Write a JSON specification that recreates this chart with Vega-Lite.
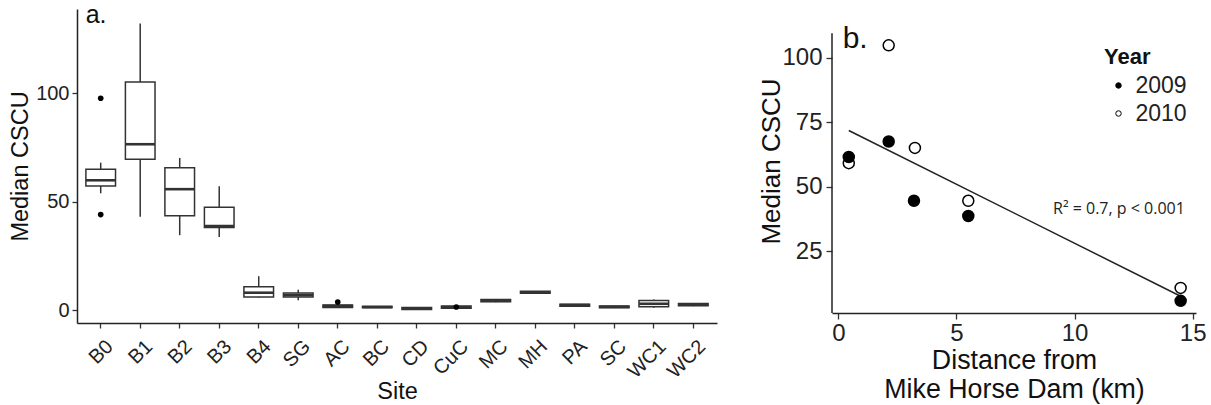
{
  "$schema": "https://vega.github.io/schema/vega-lite/v6.json",
  "padding": {"left": 8, "top": 2, "right": 5, "bottom": 0},
  "bounds": "flush",
  "spacing": 115,
  "config": {
    "font": "Liberation Sans",
    "view": {"stroke": null},
    "axis": {"grid": false, "domainColor": "#222", "domainWidth": 1.5, "tickColor": "#333", "tickWidth": 1.3, "labelColor": "#222", "titleColor": "#111", "titleFontWeight": "normal", "labelFont": "Liberation Sans", "titleFont": "Liberation Sans"}
  },
  "datasets": {
    "boxes": [
      {"site": "B0", "lower": 53.9, "q1": 57.3, "median": 59.9, "q3": 65.0, "upper": 68.0},
      {"site": "B1", "lower": 43.1, "q1": 69.6, "median": 76.5, "q3": 105.2, "upper": 132.1},
      {"site": "B2", "lower": 34.6, "q1": 43.5, "median": 55.8, "q3": 65.7, "upper": 70.2},
      {"site": "B3", "lower": 33.8, "q1": 38.1, "median": 38.8, "q3": 47.5, "upper": 57.1},
      {"site": "B4", "lower": 5.8, "q1": 6.1, "median": 8.1, "q3": 10.9, "upper": 15.7},
      {"site": "SG", "lower": 4.6, "q1": 6.1, "median": 7.0, "q3": 8.0, "upper": 9.5},
      {"site": "AC", "lower": 1.1, "q1": 1.3, "median": 2.0, "q3": 2.4, "upper": 2.6},
      {"site": "BC", "lower": 1.1, "q1": 1.2, "median": 1.5, "q3": 1.8, "upper": 1.9},
      {"site": "CD", "lower": 0.2, "q1": 0.4, "median": 0.9, "q3": 1.3, "upper": 1.4},
      {"site": "CuC", "lower": 0.6, "q1": 0.9, "median": 1.4, "q3": 2.0, "upper": 2.3},
      {"site": "MC", "lower": 3.7, "q1": 3.9, "median": 4.4, "q3": 5.0, "upper": 5.1},
      {"site": "MH", "lower": 7.6, "q1": 7.8, "median": 8.3, "q3": 8.8, "upper": 8.9},
      {"site": "PA", "lower": 1.7, "q1": 1.9, "median": 2.4, "q3": 2.8, "upper": 2.9},
      {"site": "SC", "lower": 1.0, "q1": 1.2, "median": 1.6, "q3": 2.0, "upper": 2.1},
      {"site": "WC1", "lower": 1.2, "q1": 1.6, "median": 3.0, "q3": 4.5, "upper": 5.0},
      {"site": "WC2", "lower": 1.9, "q1": 2.1, "median": 2.6, "q3": 3.1, "upper": 3.2}
    ],
    "outliers": [
      {"site": "B0", "value": 97.7},
      {"site": "B0", "value": 44.1},
      {"site": "AC", "value": 3.8},
      {"site": "CuC", "value": 1.5}
    ],
    "pts": [
      {"year": "2010", "dist": 0.44, "cscu": 59.1},
      {"year": "2010", "dist": 2.13, "cscu": 104.8},
      {"year": "2010", "dist": 3.24, "cscu": 65.0},
      {"year": "2010", "dist": 5.5, "cscu": 44.5},
      {"year": "2010", "dist": 14.49, "cscu": 10.7},
      {"year": "2009", "dist": 0.44, "cscu": 61.5},
      {"year": "2009", "dist": 2.13, "cscu": 67.5},
      {"year": "2009", "dist": 3.2, "cscu": 44.5},
      {"year": "2009", "dist": 5.5, "cscu": 38.6},
      {"year": "2009", "dist": 14.49, "cscu": 5.7}
    ]
  },
  "hconcat": [
    {
      "width": 640,
      "height": 314,
      "layer": [
        {
          "data": {"name": "boxes"},
          "mark": {"type": "rule", "color": "#333", "strokeWidth": 1.5},
          "encoding": {
            "x": {"field": "site", "type": "nominal", "title": "Site",
              "scale": {"domain": ["B0","B1","B2","B3","B4","SG","AC","BC","CD","CuC","MC","MH","PA","SC","WC1","WC2"], "paddingInner": 0, "paddingOuter": 0.1},
              "axis": {"labelAngle": -45, "labelAlign": "right", "labelBaseline": "top", "labelFontSize": 20, "labelPadding": 8, "labelOffset": 2, "tickSize": 5, "titleFontSize": 23.5, "titlePadding": -2}},
            "y": {"field": "lower", "type": "quantitative", "title": "Median CSCU",
              "scale": {"domain": [-5.85, 138.8], "nice": false, "zero": false},
              "axis": {"values": [0, 50, 100], "labelFontSize": 20, "labelPadding": 3, "tickSize": 5, "titleFontSize": 23.5, "titlePadding": 3}},
            "y2": {"field": "upper"}
          }
        },
        {
          "data": {"name": "boxes"},
          "mark": {"type": "bar", "fill": "white", "stroke": "#333", "strokeWidth": 1.5, "width": {"band": 0.75}},
          "encoding": {
            "x": {"field": "site", "type": "nominal"},
            "y": {"field": "q1", "type": "quantitative"},
            "y2": {"field": "q3"}
          }
        },
        {
          "data": {"name": "boxes"},
          "mark": {"type": "tick", "color": "#333", "thickness": 2.6, "size": 29.6, "opacity": 1},
          "encoding": {
            "x": {"field": "site", "type": "nominal"},
            "y": {"field": "median", "type": "quantitative"}
          }
        },
        {
          "data": {"name": "outliers"},
          "mark": {"type": "point", "filled": true, "color": "black", "size": 32, "opacity": 1},
          "encoding": {
            "x": {"field": "site", "type": "nominal"},
            "y": {"field": "value", "type": "quantitative"}
          }
        },
        {
          "data": {"values": [{}]},
          "mark": {"type": "text", "text": "a.", "fontSize": 25, "align": "left", "baseline": "alphabetic", "dx": -15, "color": "#111"},
          "encoding": {
            "x": {"datum": "B0", "type": "nominal"},
            "y": {"datum": 132.4, "type": "quantitative"}
          }
        }
      ]
    },
    {
      "width": 364,
      "height": 304,
      "layer": [
        {
          "data": {"values": [{}]},
          "mark": {"type": "rule", "color": "#222", "strokeWidth": 1.5},
          "encoding": {
            "x": {"datum": -0.27, "type": "quantitative"},
            "y": {"datum": 0.97, "type": "quantitative"},
            "y2": {"datum": 109.5}
          }
        },
        {
          "data": {"name": "pts"},
          "transform": [{"regression": "cscu", "on": "dist"}],
          "mark": {"type": "line", "color": "#222", "strokeWidth": 1.5},
          "encoding": {
            "x": {"field": "dist", "type": "quantitative"},
            "y": {"field": "cscu", "type": "quantitative"}
          }
        },
        {
          "data": {"name": "pts"},
          "mark": {"type": "point", "filled": true, "stroke": "black", "strokeWidth": 1.5, "size": 121, "opacity": 1},
          "encoding": {
            "x": {"field": "dist", "type": "quantitative", "title": ["Distance from", "Mike Horse Dam (km)"],
              "scale": {"domain": [-0.27, 15.14], "nice": false, "zero": false},
              "axis": {"values": [0, 5, 10, 15], "labelFontSize": 24, "labelPadding": 2, "tickSize": 6, "titleFontSize": 26.8, "titlePadding": 2, "titleLineHeight": 29}},
            "y": {"field": "cscu", "type": "quantitative", "title": "Median CSCU",
              "scale": {"domain": [0.97, 118.9], "nice": false, "zero": false},
              "axis": {"values": [25, 50, 75, 100], "domain": false, "labelFontSize": 24, "labelPadding": 4, "tickSize": 6, "titleFontSize": 26, "titlePadding": -3}},
            "fill": {"field": "year", "type": "nominal",
              "scale": {"domain": ["2009", "2010"], "range": ["black", "white"]},
              "legend": {"orient": "none", "legendX": 1027, "legendY": 38, "title": "Year", "titleFontSize": 22, "titleFontWeight": "bold", "titleColor": "#111", "labelFontSize": 23, "labelColor": "#222", "symbolType": "circle", "symbolSize": 30, "symbolStrokeColor": "black", "symbolStrokeWidth": 1, "symbolOffset": 3, "labelOffset": 5.5, "rowPadding": 4, "titlePadding": 5, "padding": 0}}
          }
        },
        {
          "data": {"values": [{}]},
          "mark": {"type": "text", "text": "b.", "fontSize": 30, "align": "left", "baseline": "alphabetic", "color": "#111"},
          "encoding": {
            "x": {"datum": 0.18, "type": "quantitative"},
            "y": {"datum": 103.8, "type": "quantitative"}
          }
        },
        {
          "data": {"values": [{}]},
          "mark": {"type": "text", "text": "R² = 0.7, p < 0.001", "font": "Open Sans", "fontSize": 16, "align": "center", "baseline": "middle", "color": "#222"},
          "encoding": {
            "x": {"datum": 11.88, "type": "quantitative"},
            "y": {"datum": 41.4, "type": "quantitative"}
          }
        }
      ]
    }
  ]
}
